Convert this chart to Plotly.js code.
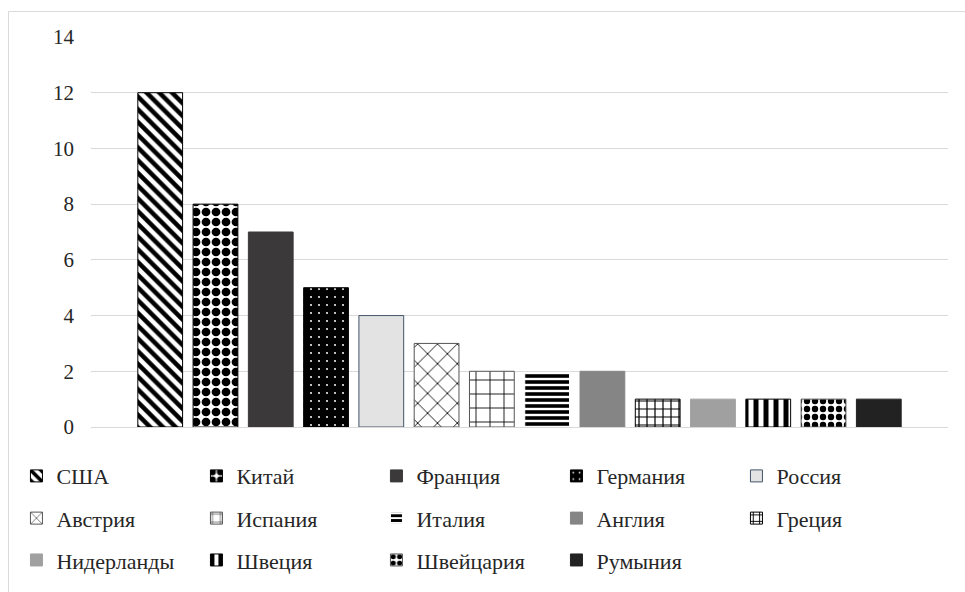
<!DOCTYPE html>
<html>
<head>
<meta charset="utf-8">
<script src="https://cdn.plot.ly/plotly-3.0.1.min.js"></script>
<style>
  html, body { margin: 0; padding: 0; background: #ffffff; }
  #chart { width: 965px; height: 592px; }
</style>
</head>
<body>
<div id="chart"></div>
<script>
// ---- data ----
var countries = ["США", "Китай", "Франция", "Германия", "Россия",
                 "Австрия", "Испания", "Италия", "Англия", "Греция",
                 "Нидерланды", "Швеция", "Швейцария", "Румыния"];
var values = [12, 8, 7, 5, 4, 3, 2, 2, 2, 1, 1, 1, 1, 1];
var yTicks = [0, 2, 4, 6, 8, 10, 12, 14];

// ---- styles (per bar) ----
function pat(shape, fg, bg, size, solidity) {
  return {shape: shape, fgcolor: fg, bgcolor: bg, size: size, solidity: solidity,
          fgopacity: 1, fillmode: "overlay"};
}
var styles = [
  {color: "#ffffff", line: "#000000", pattern: pat("\\", "#000000", "#ffffff", 9, 0.5)},
  {color: "#ffffff", line: "#000000", pattern: pat(".", "#000000", "#ffffff", 10, 0.6)},
  {color: "#3b393a", line: "#3b393a"},
  {color: "#000000", line: "#000000", pattern: pat(".", "#ffffff", "#000000", 8, 0.05)},
  {color: "#e3e3e3", line: "#44546a"},
  {color: "#ffffff", line: "#555555", pattern: pat("x", "#000000", "#ffffff", 14, 0.12)},
  {color: "#ffffff", line: "#555555", pattern: pat("+", "#000000", "#ffffff", 14, 0.12)},
  {color: "#ffffff", line: "#ffffff", pattern: pat("-", "#000000", "#ffffff", 6, 0.6)},
  {color: "#858585", line: "#858585"},
  {color: "#ffffff", line: "#000000", pattern: pat("+", "#000000", "#ffffff", 8, 0.28)},
  {color: "#a0a0a0", line: "#a0a0a0"},
  {color: "#ffffff", line: "#000000", pattern: pat("|", "#000000", "#ffffff", 10, 0.5)},
  {color: "#ffffff", line: "#555555", pattern: pat(".", "#000000", "#ffffff", 8, 0.5)},
  {color: "#222222", line: "#222222"}
];

var legendFor = function (i) { return i < 5 ? "legend" : (i < 10 ? "legend2" : "legend3"); };

var traces = countries.map(function (name, i) {
  var s = styles[i];
  var marker = {color: s.color, line: {color: s.line, width: 1}};
  if (s.pattern) marker.pattern = s.pattern;
  return {
    type: "bar",
    name: name,
    x: ["Страна"],
    y: [values[i]],
    marker: marker,
    legend: legendFor(i),
    hoverinfo: "name+y"
  };
});

var FONT = "Liberation Serif, Times New Roman, serif";
var TXT = "#262626";

function legendBox(yPos) {
  return {
    orientation: "h",
    x: -0.087, xanchor: "left",
    y: yPos, yanchor: "middle",
    entrywidth: 135, entrywidthmode: "pixels",
    font: {family: FONT, size: 22, color: TXT},
    bgcolor: "rgba(0,0,0,0)",
    borderwidth: 0,
    traceorder: "normal"
  };
}

var layout = {
  width: 965, height: 592,
  margin: {l: 91, r: 17, t: 37, b: 164},
  paper_bgcolor: "#ffffff",
  plot_bgcolor: "#ffffff",
  barmode: "group",
  bargap: 0.097,
  bargroupgap: 0.19,
  font: {family: FONT, size: 21, color: TXT},
  xaxis: {
    showticklabels: false, showgrid: false, zeroline: false, showline: false, ticks: ""
  },
  yaxis: {
    range: [0, 14], tickvals: yTicks, ticktext: yTicks.map(String),
    showgrid: true, gridcolor: "#d9d9d9", gridwidth: 1,
    zeroline: true, zerolinecolor: "#d9d9d9", zerolinewidth: 1,
    showline: false, ticks: "", ticklabelstandoff: 16,
    tickfont: {family: FONT, size: 21, color: TXT}
  },
  legend: legendBox(-0.123),
  legend2: legendBox(-0.231),
  legend3: legendBox(-0.338),
  shapes: [{
    type: "rect", xref: "paper", yref: "paper",
    x0: -0.0963, x1: 1.05, y0: -0.5, y1: 1.0653,
    line: {color: "#d9d9d9", width: 1}, fillcolor: "rgba(0,0,0,0)", layer: "below"
  }],
  showlegend: true
};

Plotly.newPlot("chart", traces, layout, {displayModeBar: false, staticPlot: true});
</script>
</body>
</html>
